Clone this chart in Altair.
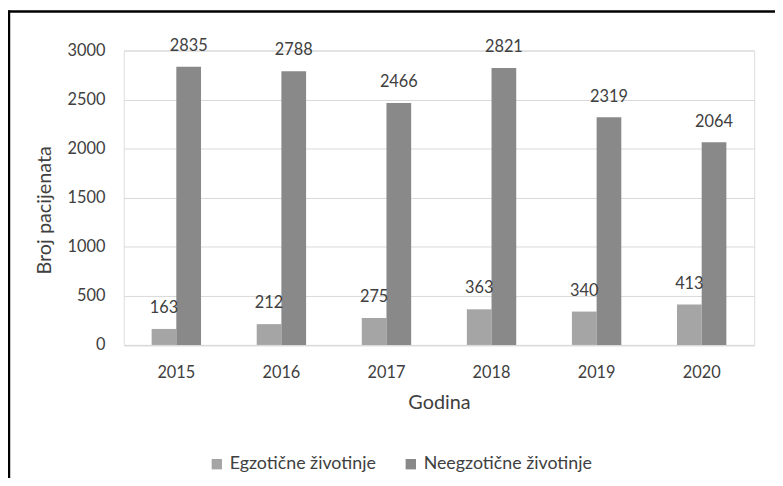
import altair as alt
import pandas as pd

years = ["2015", "2016", "2017", "2018", "2019", "2020"]
series = ["Egzotične životinje", "Neegzotične životinje"]
egzoticne = [163, 212, 275, 363, 340, 413]
neegzoticne = [2835, 2788, 2466, 2821, 2319, 2064]
y_ticks = [0, 500, 1000, 1500, 2000, 2500, 3000]
colors = ["#a5a5a5", "#898989"]

rows = []
for i, yr in enumerate(years):
    rows.append({"year": yr, "series": series[0], "value": egzoticne[i]})
    rows.append({"year": yr, "series": series[1], "value": neegzoticne[i]})
df = pd.DataFrame(rows)

FONT = "Lato"
TXT = "#404040"

base = alt.Chart(df).encode(
    x=alt.X(
        "year:N",
        sort=years,
        scale=alt.Scale(paddingInner=0.53, paddingOuter=0.265),
        axis=alt.Axis(
            title="Godina", labelAngle=0, ticks=False, domainColor="#d9d9d9",
            labelPadding=20, titlePadding=12, labelFontSize=16.5, titleFontSize=20,
            labelFont=FONT, titleFont=FONT, labelColor=TXT, titleColor=TXT,
            titleFontWeight="normal",
        ),
    ),
    xOffset=alt.XOffset("series:N", sort=series),
    y=alt.Y(
        "value:Q",
        scale=alt.Scale(domain=[0, 3000]),
        axis=alt.Axis(
            title="Broj pacijenata", values=y_ticks, format="d", ticks=False, domain=False,
            gridColor="#d9d9d9", labelPadding=19, labelFontSize=16.5, titleFontSize=20,
            labelFont=FONT, titleFont=FONT, labelColor=TXT, titleColor=TXT,
            titleFontWeight="normal", titleX=-80, titleY=161, titleBaseline="middle",
            titleAlign="center",
        ),
    ),
)

bars = base.mark_bar().encode(
    color=alt.Color(
        "series:N",
        scale=alt.Scale(domain=series, range=colors),
        legend=alt.Legend(
            title=None, orient="none", legendX=85, legendY=409, direction="horizontal",
            symbolType="square", symbolSize=110, symbolStrokeWidth=0,
            labelFontSize=18, labelFont=FONT, labelColor=TXT, columnPadding=26,
            labelOffset=4, labelLimit=0,
        ),
    )
)

labels = base.mark_text(
    baseline="bottom", dy=-13, fontSize=16.5, font=FONT, color=TXT
).encode(text=alt.Text("value:Q"))

border_left = alt.Chart(alt.Data(values=[{}])).mark_rule(
    color="#000000", strokeWidth=2.5
).encode(x=alt.value(-116), y=alt.value(-40.5), y2=alt.value(440))

border_top = alt.Chart(alt.Data(values=[{}])).mark_rule(
    color="#000000", strokeWidth=2.5
).encode(x=alt.value(-117), x2=alt.value(700), y=alt.value(-39.5))

chart = alt.layer(bars, labels, border_left, border_top).properties(
    width=637, height=297.5,
    padding={"left": 117, "top": 40.5, "right": 21, "bottom": 132},
    autosize=alt.AutoSizeParams(type="none"),
).configure_view(stroke=None).configure(background="white")

chart.save("out.html", embed_options={"renderer": "svg", "actions": False})
